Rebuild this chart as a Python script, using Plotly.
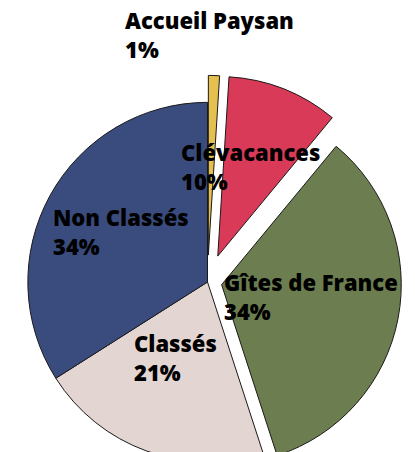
import plotly.graph_objects as go

labels = ["Accueil Paysan", "Clévacances", "Gîtes de France", "Classés", "Non Classés"]
values = [1, 10, 34, 21, 34]
colors = ["#E6C04E", "#D93A57", "#6C7D50", "#E3D5D1", "#3A4C7D"]
pulls = [0.15, 0.155, 0.08, 0, 0]

# label anchor points (left, top) in pixels of the figure
label_px = [(123, 3), (179, 135), (222, 265), (132, 326), (51, 200)]

W, H = 415, 564

fig = go.Figure(go.Pie(
    labels=labels,
    values=values,
    sort=False,
    direction="clockwise",
    rotation=0,
    pull=pulls,
    marker=dict(colors=colors, line=dict(color="#1a1a1a", width=1)),
    textinfo="none",
    hoverinfo="label+percent",
    domain=dict(x=[0, 1], y=[0, 1]),
))

total = sum(values)
for lab, val, (px, py) in zip(labels, values, label_px):
    fig.add_annotation(
        x=px / W, y=1 - py / H, xref="paper", yref="paper",
        xanchor="left", yanchor="top", align="left",
        text=f"{lab}<br>{round(100 * val / total)}%",
        showarrow=False,
        font=dict(family="Open Sans", size=22, color="#000000", weight=800),
    )

fig.update_layout(
    width=W, height=H,
    margin=dict(l=0, r=0, t=0, b=0),
    showlegend=False,
    paper_bgcolor="white",
    plot_bgcolor="white",
)

fig.write_html(
    "out.html",
    config={"displayModeBar": False},
    post_script="document.body.style.margin='0';document.body.style.overflow='hidden';",
)
